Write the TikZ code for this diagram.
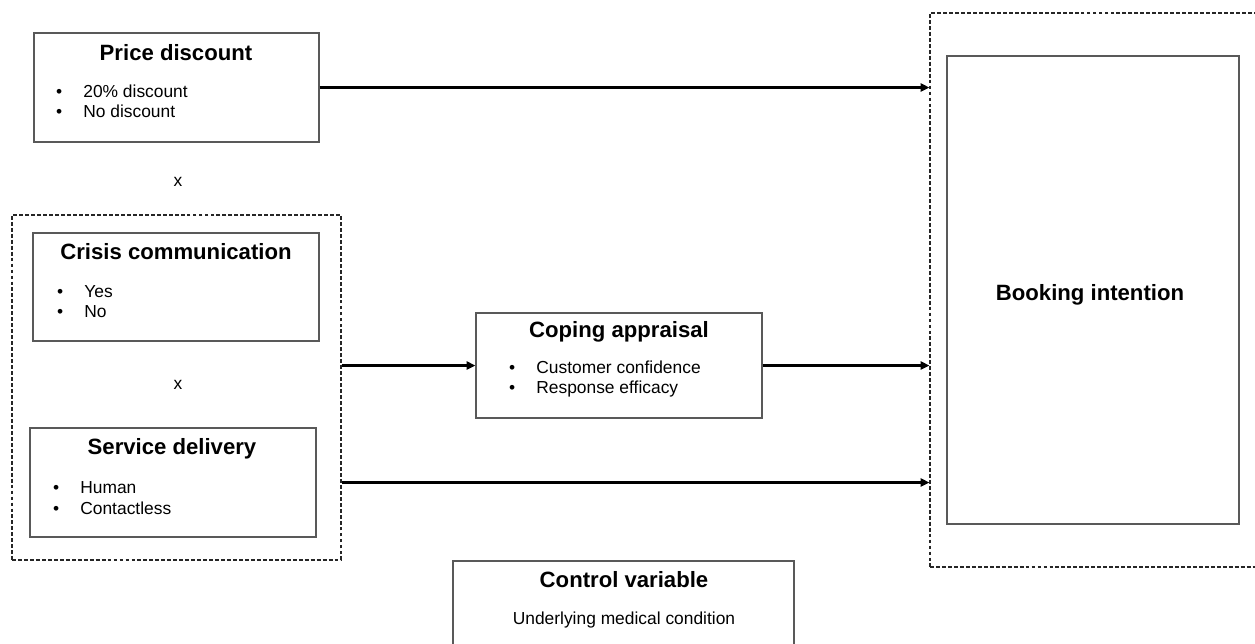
\documentclass[tikz,border=0pt]{standalone}
\usepackage{fontspec}
\setmainfont{Liberation Sans}
\usetikzlibrary{arrows.meta}
\tikzstyle{arrow} = [line width=1.5pt,-{Triangle[length=5pt,width=4.5pt]}]
\tikzset{box/.style={draw=black!65, line width=0.65pt, inner sep=0pt}}
\tikzset{dashbox/.style={draw=black!85, line width=0.65pt, dash pattern=on 2.2pt off 1.2pt, inner sep=0pt}}
\tikzset{head/.style={font=\bfseries\fontsize{12.6}{15}\selectfont, anchor=base, inner sep=0pt}}
\tikzset{item/.style={font=\fontsize{9.9}{12}\selectfont, anchor=base west, inner sep=0pt}}
\newcommand{\bul}{\llap{\textbullet\hspace{12pt}}}

\begin{document}
\begin{tikzpicture}[x=0.02cm, y=-0.02cm]
\useasboundingbox (0,0) rectangle (1255,643);

% left side
\node[box, minimum width=5.70cm, minimum height=2.18cm] (price) at (176.5,87.5) {};
\node[head] (pricehead) at (176,60) {Price discount};
\node[item] (price1) at (83,97) {\bul 20\% discount};
\node[item] (price2) at (83,117) {\bul No discount};

\node[font=\fontsize{9.9}{12}\selectfont, inner sep=0pt] (times1) at (178,182) {x};

\node[dashbox, minimum width=6.58cm, minimum height=6.90cm] (group) at (176.5,387.5) {};

\node[box, minimum width=5.72cm, minimum height=2.16cm] (crisis) at (176,287) {};
\node[head] (crisishead) at (176,259) {Crisis communication};
\node[item] (crisis1) at (84,297) {\bul Yes};
\node[item] (crisis2) at (84,317) {\bul No};

\node[font=\fontsize{9.9}{12}\selectfont, inner sep=0pt] (times2) at (178,385) {x};

\node[box, minimum width=5.72cm, minimum height=2.18cm] (service) at (173,482.5) {};
\node[head] (servicehead) at (172,454) {Service delivery};
\node[item] (service1) at (80,493) {\bul Human};
\node[item] (service2) at (80,514) {\bul Contactless};

% mediator
\node[box, minimum width=5.72cm, minimum height=2.10cm] (coping) at (619,365.5) {};
\node[head] (copinghead) at (619,337) {Coping appraisal};
\node[item] (coping1) at (536,373) {\bul Customer confidence};
\node[item] (coping2) at (536,393) {\bul Response efficacy};

% control
\node[box, minimum width=6.82cm, minimum height=2.38cm] (control) at (623.5,620.5) {};
\node[head] (controlhead) at (624,587) {Control variable};
\node[font=\fontsize{9.9}{12}\selectfont, anchor=base, inner sep=0pt] (controltext) at (624,624) {Underlying medical condition};

% outcome
\node[dashbox, minimum width=6.64cm, minimum height=11.08cm] (booking) at (1096,290) {};
\node[box, minimum width=5.84cm, minimum height=9.36cm] (bookinner) at (1093,290) {};
\node[head] (bookhead) at (1090,300) {Booking intention};

% arrows
\draw[arrow] (price.east) -- (price.east -| booking.west);
\draw[arrow] (coping.west -| group.east) -- (coping.west);
\draw[arrow] (coping.east) -- (coping.east -| booking.west);
\draw[arrow] (service.east -| group.east) -- (service.east -| booking.west);
\end{tikzpicture}
\end{document}
